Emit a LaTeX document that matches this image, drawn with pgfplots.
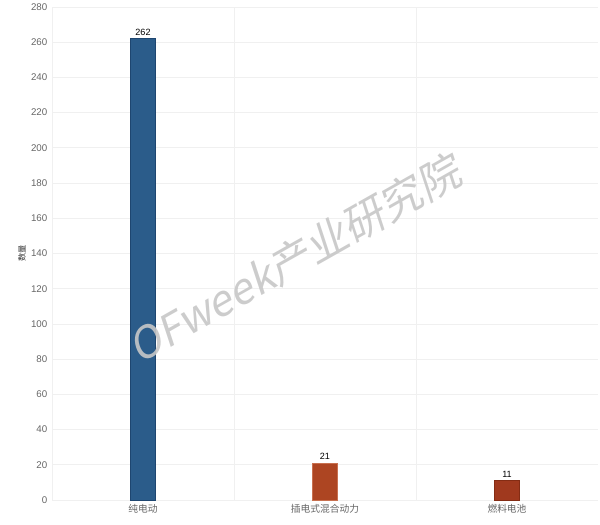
\documentclass[border=0pt]{standalone}
\usepackage{pgfplots}
\pgfplotsset{compat=1.18}
\usepackage{fontspec}
\setmainfont{Liberation Sans}
\newfontfamily\cjk{Noto Sans CJK SC}
\newfontfamily\cjkslant[FakeSlant=0.2]{Noto Sans CJK SC}
\definecolor{barblue}{HTML}{2B5C8A}
\definecolor{barblueedge}{HTML}{1E4670}
\definecolor{barorange}{HTML}{AD4522}
\definecolor{barorangeedge}{HTML}{C8704F}
\definecolor{barred}{HTML}{A0391E}
\definecolor{barrededge}{HTML}{842C14}
\definecolor{gridc}{HTML}{F0F0F0}
\definecolor{tickc}{HTML}{666666}

\begin{document}
\begin{tikzpicture}
  % picture frame: 600 x 525 px, 1 px = 0.75pt
  \useasboundingbox (-39pt,-18.75pt) rectangle (411pt,375pt);
  \begin{axis}[
    at={(0,0)}, anchor=south west,
    scale only axis,
    width=409.5pt, height=369.75pt,
    xmin=-0.5, xmax=2.5,
    ymin=0, ymax=280,
    ytick={0,20,...,280},
    xtick={0,1,2},
    xticklabels={{\cjk 纯电动},{\cjk 插电式混合动力},{\cjk 燃料电池}},
    minor xtick={0.5,1.5},
    xminorgrids, ymajorgrids,
    major grid style={gridc, line width=0.6pt},
    minor grid style={gridc, line width=0.6pt},
    axis x line*=bottom, axis y line*=left,
    axis line style={gridc, line width=0.6pt},
    major tick length=0pt, minor tick length=0pt,
    tick label style={font=\fontsize{7.3}{8}\selectfont, text=tickc},
    /pgf/number format/assume math mode=true,
    ylabel={\cjk 数量},
    ylabel style={font=\fontsize{6.2}{8}\selectfont, text=black!80},
    ylabel shift=-3pt,
    ybar, bar width=18.75pt, bar shift=0pt,
    nodes near coords,
    every node near coord/.append style={font=\fontsize{6.8}{8}\selectfont, text=black, yshift=-1pt},
    clip=false,
  ]
    \addplot[fill=barblue, draw=barblueedge, line width=0.5pt] coordinates {(0,262)};
    \addplot[fill=barorange, draw=barorangeedge, line width=0.5pt] coordinates {(1,21)};
    \addplot[fill=barred, draw=barrededge, line width=0.5pt] coordinates {(2,11)};
    \node[rotate=29.5, text=black!22, font=\cjkslant\fontsize{32}{34}\selectfont, opacity=0.9]
      at (axis cs:0.83,137) {OFweek产业研究院};
  \end{axis}
\end{tikzpicture}
\end{document}
